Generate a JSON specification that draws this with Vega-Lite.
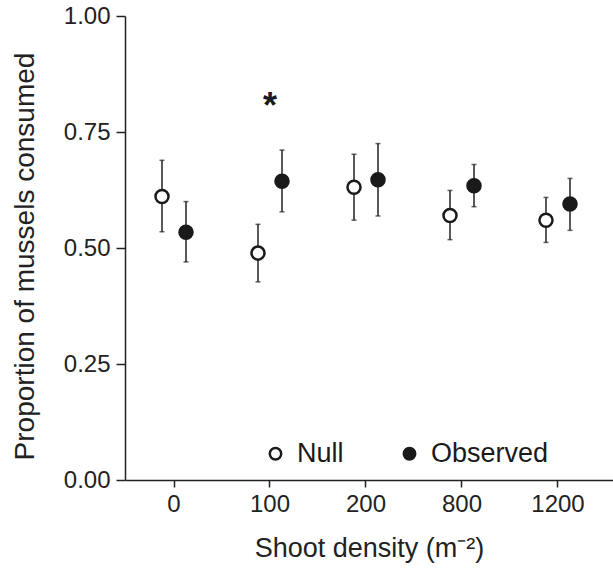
{
  "$schema": "https://vega.github.io/schema/vega-lite/v6.json",
  "width": 488,
  "height": 464,
  "autosize": "none",
  "padding": {"left": 125, "top": 16, "right": 0, "bottom": 88},
  "background": "white",
  "config": {
    "font": "Liberation Sans",
    "view": {"stroke": null},
    "axis": {
      "grid": false,
      "domainColor": "#222222",
      "domainWidth": 1.5,
      "tickColor": "#222222",
      "tickWidth": 1.5,
      "labelColor": "#222222",
      "titleColor": "#222222",
      "labelFontSize": 24,
      "titleFontSize": 27,
      "titleFontWeight": "normal"
    }
  },
  "datasets": {
    "means": [
      {"density": "0", "group": "Null", "mean": 0.611, "lo": 0.535, "hi": 0.689},
      {"density": "0", "group": "Observed", "mean": 0.534, "lo": 0.470, "hi": 0.600},
      {"density": "100", "group": "Null", "mean": 0.489, "lo": 0.427, "hi": 0.551},
      {"density": "100", "group": "Observed", "mean": 0.644, "lo": 0.578, "hi": 0.711},
      {"density": "200", "group": "Null", "mean": 0.631, "lo": 0.560, "hi": 0.702},
      {"density": "200", "group": "Observed", "mean": 0.647, "lo": 0.569, "hi": 0.725},
      {"density": "800", "group": "Null", "mean": 0.570, "lo": 0.518, "hi": 0.624},
      {"density": "800", "group": "Observed", "mean": 0.634, "lo": 0.589, "hi": 0.680},
      {"density": "1200", "group": "Null", "mean": 0.560, "lo": 0.512, "hi": 0.609},
      {"density": "1200", "group": "Observed", "mean": 0.595, "lo": 0.538, "hi": 0.650}
    ],
    "stars": [
      {"density": "100", "y": 0.78, "label": "*"}
    ]
  },
  "encoding": {
    "x": {
      "field": "density",
      "type": "nominal",
      "sort": ["0", "100", "200", "800", "1200"],
      "scale": {"paddingInner": 0, "paddingOuter": 0.0417, "align": 0.125},
      "axis": {
        "title": "Shoot density (m⁻²)",
        "labelAngle": 0,
        "tickSize": 7,
        "labelPadding": 5,
        "titlePadding": 19
      }
    }
  },
  "layer": [
    {
      "data": {"name": "means"},
      "mark": {"type": "rule", "color": "#222222", "strokeWidth": 1.5},
      "encoding": {
        "xOffset": {"field": "group", "type": "nominal", "sort": ["Null", "Observed"], "scale": {"paddingInner": 0, "paddingOuter": 1.4}},
        "y": {
          "field": "lo",
          "type": "quantitative",
          "scale": {"domain": [0, 1]},
          "axis": {
            "title": "Proportion of mussels consumed",
            "titleFontSize": 28,
            "titleY": 240,
            "values": [0, 0.25, 0.5, 0.75, 1],
            "format": ".2f",
            "tickSize": 9,
            "labelPadding": 6,
            "titlePadding": 24
          }
        },
        "y2": {"field": "hi"}
      }
    },
    {
      "data": {"name": "means"},
      "mark": {"type": "tick", "color": "#222222", "size": 5, "thickness": 1.5},
      "encoding": {
        "xOffset": {"field": "group", "type": "nominal", "sort": ["Null", "Observed"]},
        "y": {"field": "lo", "type": "quantitative"}
      }
    },
    {
      "data": {"name": "means"},
      "mark": {"type": "tick", "color": "#222222", "size": 5, "thickness": 1.5},
      "encoding": {
        "xOffset": {"field": "group", "type": "nominal", "sort": ["Null", "Observed"]},
        "y": {"field": "hi", "type": "quantitative"}
      }
    },
    {
      "data": {"name": "means"},
      "mark": {"type": "point", "shape": "circle", "filled": true, "size": 170, "stroke": "#1a1a1a", "strokeWidth": 2.5, "opacity": 1},
      "encoding": {
        "xOffset": {"field": "group", "type": "nominal", "sort": ["Null", "Observed"]},
        "y": {"field": "mean", "type": "quantitative"},
        "fill": {
          "field": "group",
          "type": "nominal",
          "scale": {"domain": ["Null", "Observed"], "range": ["#ffffff", "#1a1a1a"]},
          "legend": {
            "orient": "none",
            "legendX": 137,
            "legendY": 424,
            "direction": "horizontal",
            "title": null,
            "labelFontSize": 27,
            "labelColor": "#1a1a1a",
            "symbolType": "circle",
            "symbolSize": 130,
            "symbolStrokeWidth": 2.5,
            "symbolStrokeColor": "#1a1a1a",
            "symbolOpacity": 1,
            "labelOffset": 8,
            "columnPadding": 52,
            "padding": 0
          }
        }
      }
    },
    {
      "data": {"name": "stars"},
      "mark": {"type": "text", "fontSize": 36, "fontWeight": "bold", "color": "#1a1a1a", "baseline": "alphabetic", "align": "center"},
      "encoding": {
        "y": {"field": "y", "type": "quantitative"},
        "text": {"field": "label"}
      }
    }
  ]
}
